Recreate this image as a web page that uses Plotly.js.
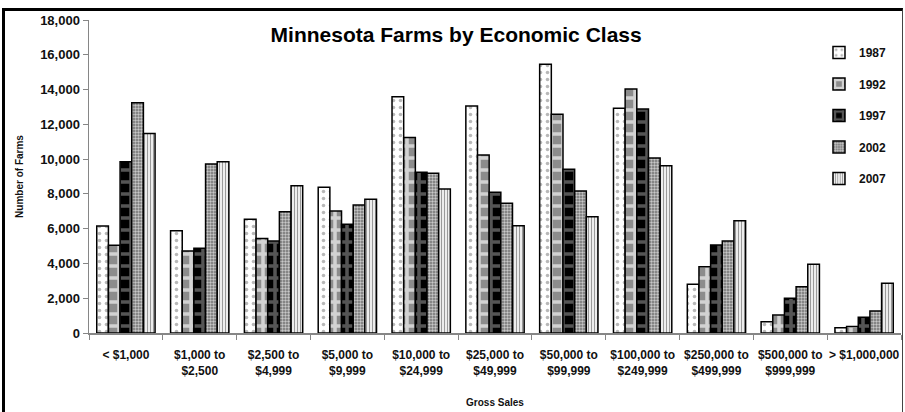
<!DOCTYPE html>
<html>
<head>
<meta charset="utf-8">
<script src="https://cdn.plot.ly/plotly-3.0.1.min.js"></script>
<style>
  html, body { margin: 0; padding: 0; background: #fff; }
  #wrap { position: relative; width: 905px; height: 412px; }
  #chart { width: 905px; height: 412px; }
  #frame { position: absolute; left: 2px; top: 8px; width: 901px; height: 420px;
           border-left: 3px solid #000; border-top: 3px solid #000; border-right: 1px solid #444;
           box-sizing: border-box; pointer-events: none; }
</style>
</head>
<body>
<div id="wrap">
  <div id="chart"></div>
  <div id="frame"></div>
</div>
<script>
const categories = [
  "< $1,000",
  "$1,000 to<br>$2,500",
  "$2,500 to<br>$4,999",
  "$5,000 to<br>$9,999",
  "$10,000 to<br>$24,999",
  "$25,000 to<br>$49,999",
  "$50,000 to<br>$99,999",
  "$100,000 to<br>$249,999",
  "$250,000 to<br>$499,999",
  "$500,000 to<br>$999,999",
  "> $1,000,000"
];
const years = ["1987", "1992", "1997", "2002", "2007"];
const farms1987 = [6150, 5880, 6540, 8380, 13590, 13050, 15450, 12920, 2800, 650, 300];
const farms1992 = [5050, 4720, 5440, 7020, 11250, 10240, 12580, 14030, 3810, 1030, 380];
const farms1997 = [9850, 4870, 5290, 6250, 9240, 8090, 9410, 12880, 5060, 2000, 900];
const farms2002 = [13240, 9720, 6980, 7360, 9180, 7460, 8170, 10060, 5290, 2660, 1260];
const farms2007 = [11480, 9850, 8470, 7690, 8280, 6170, 6690, 9620, 6460, 3950, 2860];
const yTicks = [0, 2000, 4000, 6000, 8000, 10000, 12000, 14000, 16000, 18000];

const series = [farms1987, farms1992, farms1997, farms2002, farms2007];
const patterns = [
  {shape: ".", bgcolor: "#ffffff", fgcolor: "#b8b8b8", size: 7, solidity: 0.2},
  {shape: "+", bgcolor: "#8c8c8c", fgcolor: "#d2d2d2", size: 12, solidity: 0.5},
  {shape: "+", bgcolor: "#000000", fgcolor: "#555555", size: 12, solidity: 0.5},
  {shape: ".", bgcolor: "#707070", fgcolor: "#c8c8c8", size: 3, solidity: 0.5},
  {shape: "|", bgcolor: "#ffffff", fgcolor: "#9a9a9a", size: 3, solidity: 0.45}
];

const traces = years.map((yr, i) => ({
  type: "bar",
  name: yr,
  x: categories,
  y: series[i],
  legendgroup: yr,
  marker: {
    color: patterns[i].bgcolor,
    line: {color: "#000", width: 1.5},
    pattern: patterns[i]
  },
  hoverinfo: "x+y+name"
}));

const fontFam = "Liberation Sans, Arial, sans-serif";
const layout = {
  width: 905, height: 412,
  margin: {l: 89, r: 4, t: 20, b: 79},
  paper_bgcolor: "#fff", plot_bgcolor: "#fff",
  barmode: "group", bargap: 0.21, bargroupgap: 0,
  font: {family: fontFam, color: "#111"},
  title: {
    text: "<b>Minnesota Farms by Economic Class</b>",
    font: {family: fontFam, size: 21, color: "#000"},
    x: 0.504, xanchor: "center", xref: "container",
    y: 1 - 35/412, yanchor: "middle", yref: "container"
  },
  xaxis: {
    type: "category",
    tickson: "boundaries",
    tickangle: 0,
    ticks: "outside", ticklen: 5, tickcolor: "#868686",
    ticklabelstandoff: 10,
    showline: true, linecolor: "#868686", linewidth: 1.5,
    showgrid: false, zeroline: false, automargin: false,
    tickfont: {family: fontFam, size: 12, color: "#111", weight: "bold"},
    title: {text: "<b>Gross Sales</b>", font: {family: fontFam, size: 10, color: "#111"}, standoff: 22}
  },
  yaxis: {
    range: [0, 18000],
    tickvals: yTicks,
    tickformat: ",d",
    ticks: "outside", ticklen: 5, tickcolor: "#868686",
    showline: true, linecolor: "#868686", linewidth: 1.5,
    showgrid: false, zeroline: false, automargin: false,
    tickfont: {family: fontFam, size: 13, color: "#111", weight: "bold"},
    title: {text: "<b>Number of Farms</b>", font: {family: fontFam, size: 10, color: "#111"}, standoff: 14}
  },
  showlegend: true,
  legend: {
    xref: "paper", yref: "paper",
    x: 0.899, xanchor: "left",
    y: 1 - 18/313, yanchor: "top",
    bgcolor: "rgba(0,0,0,0)",
    font: {family: fontFam, size: 12, color: "#111", weight: "bold"},
    tracegroupgap: 12.5,
    itemwidth: 30,
    traceorder: "grouped"
  }
};

Plotly.newPlot("chart", traces, layout, {displayModeBar: false, staticPlot: true});
</script>
</body>
</html>
